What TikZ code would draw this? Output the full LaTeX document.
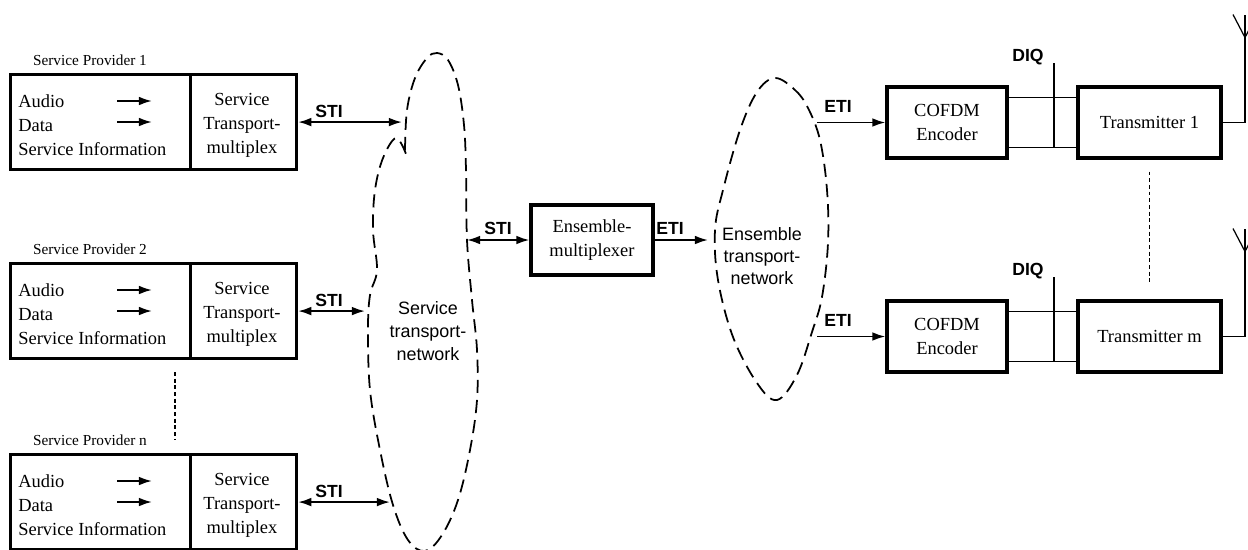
\documentclass[tikz,border=0pt]{standalone}
\usepackage{fontspec}
\setmainfont{Liberation Serif}
\setsansfont{Liberation Sans}
\usetikzlibrary{arrows.meta}

\begin{document}
\begin{tikzpicture}[x=0.02cm,y=-0.02cm,
  box/.style={draw,line width=1.8pt,inner sep=0pt,align=center,font=\fontsize{10.5}{13.6}\selectfont},
  txt/.style={inner sep=0pt,font=\fontsize{10.5}{13.6}\selectfont},
  prov/.style={inner sep=0pt,font=\fontsize{8.7}{10}\selectfont},
  lbl/.style={inner sep=0pt,font=\sffamily\bfseries\fontsize{10}{12}\selectfont},
  net/.style={inner sep=0pt,align=center,font=\sffamily\fontsize{10.2}{13.2}\selectfont},
  cloud/.style={line width=1pt,dash pattern=on 7.5pt off 4pt},
  arr/.style={-{Latex[length=7.5pt,width=5pt]},line width=1.1pt},
  dbl/.style={{Latex[length=7.5pt,width=5pt]}-{Latex[length=7.5pt,width=5pt]},line width=1.1pt},
  thin/.style={line width=0.7pt},
  dots/.style={line width=0.9pt,dash pattern=on 2.2pt off 1.6pt}]

\newcommand*{\provh}{1.9cm}
\newcommand*{\chainh}{1.42cm}

\useasboundingbox (0,0) rectangle (1248,549);

%service providers:
\foreach \i/\y/\e in {1/73/402, 2/262/365, n/453/390}{
  \node[box,minimum width=3.6cm,minimum height=\provh,anchor=north west] (src\i) at (9,\y) {};
  \node[box,minimum width=2.12cm,minimum height=\provh,anchor=north west] (mpx\i) at (189,\y) {};
  \node[prov] (sp\i) at (90,\y-13) {Service Provider \i};
  \node[txt,align=left,anchor=west] (in\i) at (18,\y+52) {Audio\\Data\\Service Information};
  \node[txt,align=center] (mt\i) at (242,\y+52) {Service\\Transport-\\multiplex};
  \coordinate (au\i) at (117,\y+28);
  \coordinate (da\i) at (117,\y+49);
  \draw[arr] (au\i) -- ++(35,0);
  \draw[arr] (da\i) -- ++(35,0);
  \coordinate (s\i) at (\e,\y+48);
  \draw[dbl] (mpx\i.east) -- (mpx\i.east -| s\i);
  \node[lbl] (sti\i) at (329,\y+38) {STI};
}
\coordinate (gapa) at (175,372);
\coordinate (gapb) at (175,440);
\draw[dots] (gapa) -- (gapb);

%service transport network:
\draw[cloud] plot[smooth,tension=0.6] coordinates {(405,150) (407,110) (415,78) (427,58) (437,53) (448,60) (458,85) (464,125) (466,170) (467,240) (472,300) (477,350) (477,400) (470,450) (458,500) (442,535) (425,551) (408,540) (393,505) (380,450) (370,390) (368,330) (370,295) (377,270) (373,230) (375,190) (383,158) (396,138) (406,154)};
\node[net] (stn) at (428,331) {Service\\transport-\\network};

%ensemble multiplexer:
\coordinate (s0) at (467,240);
\node[box,minimum width=2.44cm,minimum height=1.4cm] (emux) at (592,240) {Ensemble-\\multiplexer};
\draw[dbl] (s0) -- (emux.west);
\node[lbl] (sti0) at (498,228) {STI};
\coordinate (e0) at (708,240);
\draw[arr] (emux.east) -- (e0);
\node[lbl] (eti0) at (670,228) {ETI};

%ensemble transport network:
\draw[cloud] plot[smooth cycle,tension=0.6] coordinates {(775,78) (795,90) (808,108) (820,140) (827,190) (828,243) (822,297) (812,332) (797,375) (777,400) (757,383) (733,337) (718,280) (715,230) (723,190) (740,130) (757,92)};
\node[net,font=\sffamily\fontsize{10.2}{12.5}\selectfont] (etn) at (762,256) {Ensemble\\transport-\\network};

%encoders and transmitters:
\foreach \j/\y/\t in {1/122.5/1, 2/336.5/m}{
  \node[box,minimum width=2.4cm,minimum height=\chainh] (cofdm\j) at (947,\y) {COFDM\\Encoder};
  \node[box,minimum width=2.86cm,minimum height=\chainh] (tx\j) at (1149.5,\y) {Transmitter \t};
  \coordinate (e\j) at (817,\y);
  \draw[arr] (e\j) -- (cofdm\j.west);
  \node[lbl] (eti\j) at (838,\y-16) {ETI};
  \coordinate (up\j) at ([yshift=-0.24cm]cofdm\j.north east);
  \coordinate (lo\j) at ([yshift=0.24cm]cofdm\j.south east);
  \draw[line width=1pt] (up\j) -- (up\j -| tx\j.west);
  \draw[line width=1pt] (lo\j) -- (lo\j -| tx\j.west);
  \coordinate (diq\j) at (1054,\y-59.5);
  \draw[thin] (diq\j) -- (diq\j |- lo\j);
  \node[lbl] (diqlab\j) at (1028,\y-65) {DIQ};
  %antenne
  \coordinate (ant\j) at (1245,\y-108);
  \draw[thin] (tx\j.east) -- (tx\j.east -| ant\j) -- (ant\j);
  \draw[thin] (ant\j) ++(-12,0) -- ++(12,23) -- ++(12,-23);
}
\draw[dots] ([yshift=-0.24cm]tx1.south) -- ([yshift=0.3cm]tx2.north);

\end{tikzpicture}
\end{document}
